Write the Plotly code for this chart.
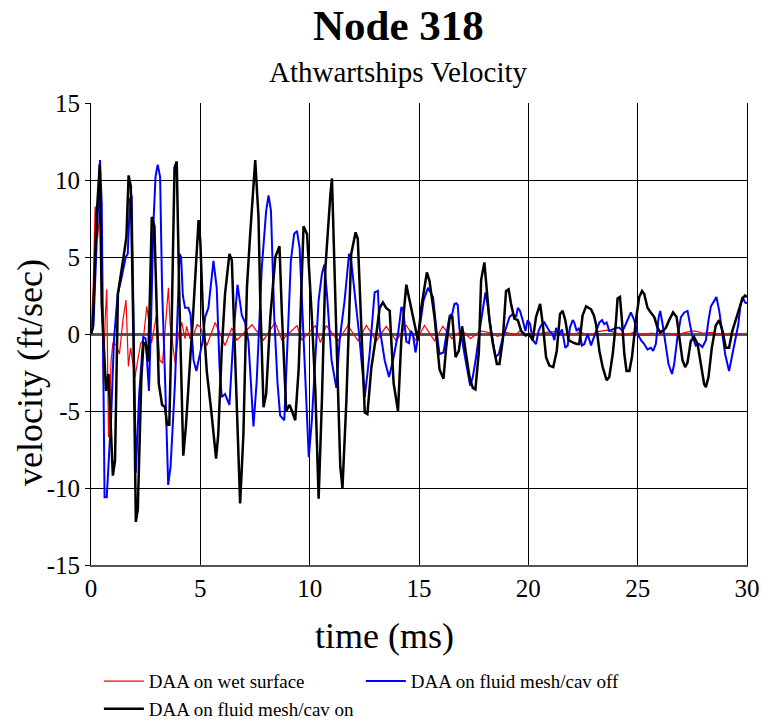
import plotly.graph_objects as go

# ---- data ----
t_wet = [0, 0.1, 0.19, 0.3, 0.41, 0.5, 0.57, 0.65, 0.72, 0.8, 0.92, 1.0, 1.15, 1.3, 1.46, 1.6, 1.71, 1.81,
         2.01, 2.27, 2.39, 2.55, 2.77, 3.0, 3.15, 3.27, 3.54, 3.62, 3.85, 4.0, 4.15, 4.3, 4.37, 4.52, 4.7,
         4.86, 5.0, 5.3, 5.68, 6.13, 6.44, 6.67, 7.0, 7.36, 7.89, 8.42, 8.73, 9.1, 9.42, 9.65, 10.26, 10.49,
         10.76, 11.3, 11.75, 12.21, 12.59, 13.05, 13.5, 13.96, 14.42, 14.87, 15.25, 15.71, 16.09, 16.5,
         16.95, 17.35, 17.8, 18.2, 18.6, 19.0, 19.4, 19.6, 20.0, 20.4, 20.8, 21.2, 21.6, 22.0, 22.4, 22.8,
         23.2, 23.6, 24.0, 24.4, 24.8, 25.2, 25.6, 26.0, 26.4, 26.8, 27.2, 27.6, 28.0, 28.4, 28.8, 29.2,
         29.6, 30.0]
v_wet = [0, 3, 8.3, 6.2, 8, 2, -3.2, 1, 2.9, -6.7, -1.7, -0.6, -0.7, -1.3, 0.9, 2.2, -2.1, -0.9,
         -2.8, -0.6, -0.4, 1.8, -0.6, 1.3, -1.7, -1.9, 3, 0.6, -1.9, 0, 0.75, -0.3, 0.5, -0.3, 0,
         0.6, 0.45, -0.75, 0.75, -0.75, 0.4, -0.4, 0.1, 0.6, -0.4, 0.75, -0.4, 0.1, 0.55, -0.4, 0.55, -0.55,
         0.55, -0.45, 0.55, -0.45, 0.55, -0.45, 0.5, -0.45, 0.55, -0.45, 0.55, -0.45, 0.5, -0.3,
         0.25, -0.3, 0.2, 0.1, -0.15, 0.1, -0.1, 0.2, -0.05, 0, 0.1, 0.15, -0.1, 0, 0.1, -0.1,
         0.15, 0.25, 0.1, -0.1, 0.1, -0.1, 0.05, 0, 0.05, -0.05, 0.1, 0.2, 0.05, 0.1, -0.05, 0.05,
         0, 0.05]

t_off = [0, 0.11, 0.26, 0.41, 0.49, 0.55, 0.62, 0.72, 0.92, 1.05, 1.22, 1.36, 1.59, 1.68, 1.78, 1.86, 1.94,
         2.05, 2.2, 2.39, 2.5, 2.65, 2.75, 2.85, 2.95, 3.05, 3.16, 3.25, 3.38, 3.53, 3.64, 3.84, 3.95, 4.05,
         4.12, 4.2, 4.3, 4.45, 4.55, 4.69, 4.82, 4.95, 5.1, 5.22, 5.37, 5.6, 5.75, 5.88, 5.98, 6.13, 6.33,
         6.52, 6.7, 6.9, 7.05, 7.2, 7.43, 7.58, 7.81, 8.01, 8.12, 8.23, 8.38, 8.53, 8.65, 8.84, 8.99, 9.14,
         9.29, 9.42, 9.54, 9.72, 9.85, 9.96, 10.1, 10.26, 10.41, 10.56, 10.67, 10.79, 11.0, 11.22, 11.37,
         11.6, 11.8, 11.9, 12.1, 12.26, 12.52, 12.74, 12.97, 13.12, 13.2, 13.43, 13.63, 13.81, 14.04, 14.19,
         14.27, 14.42, 14.54, 14.62, 14.72, 14.84, 15.03, 15.21, 15.41, 15.64, 15.82, 15.94, 16.12, 16.24,
         16.4, 16.52, 16.62, 16.7, 16.77, 16.85, 16.97, 17.08, 17.23, 17.34, 17.46, 17.61, 17.77, 17.92,
         18.04, 18.15, 18.3, 18.5, 18.65, 18.8, 18.95, 19.14, 19.29, 19.44, 19.52, 19.62, 19.74, 19.87,
         19.97, 20.08, 20.2, 20.35, 20.47, 20.58, 20.73, 20.96, 21.11, 21.19, 21.27, 21.39, 21.54, 21.69,
         21.8, 21.9, 22.03, 22.1, 22.21, 22.33, 22.45, 22.56, 22.71, 22.87, 22.95, 23.09, 23.25, 23.37,
         23.47, 23.58, 23.7, 23.86, 24.0, 24.16, 24.31, 24.46, 24.62, 24.69, 24.84, 25.0, 25.15, 25.3,
         25.45, 25.6, 25.71, 25.83, 25.96, 26.03, 26.14, 26.26, 26.41, 26.57, 26.67, 26.82, 26.98, 27.13,
         27.28, 27.39, 27.51, 27.66, 27.81, 27.96, 28.12, 28.24, 28.35, 28.5, 28.6, 28.73, 28.85, 29.0,
         29.18, 29.3, 29.49, 29.6, 29.71, 29.79, 29.91, 30.0]
v_off = [0, 0.5, 6, 11.3, 8.5, -3.2, -10.6, -10.6, -5.4, -0.4, 2.6, 3.4, 5, 5.2, 8.7, 9, 0,
         -9, -4, -0.2, -0.3, -3.7, 1, 7, 10.2, 11, 10.2, 3, -2.6, -9.8, -8.6, -3.2, 1, 5.2,
         5, 2.5, 1.7, 1.7, 1.3, -1.7, -2.4, -1.5, -0.5, 1.1, 1.7, 4.75, 3, -2.2, -4.1, -3.9, -4.6,
         0, 3.2, 1.2, 0.75, -0.5, -6, -3, 4.3, 8, 9, 8, 1.1, -3.2, -5.3, -5.6, -0.4, 4.75,
         6.5, 6.7, 5.6, -0.4, -3.7, -8, -5.6, -1.7, 2.2, 3.9, 4.5, 2.6, -1.7, -3.5, -0.4,
         2.2, 5.2, 4.75, 2.2, 0, -4.1, -1.3, 2.7, 2.8, 0.4, -1.7, -2.8, -1.7, 0, 1.7,
         1.7, -0.5, -0.6, 0.2, 0, -1.2, 0.4, 2.2, 3, 2.4, 0, -1.3, -1.2, -0.2,
         1.2, 1.3, 1.95, 2, 1.9, 0.3, -0.4, -1.3, -2.6, -3.35, -2.8, -1.5, 0.2, 1.5,
         2.7, 1.8, 0.2, -1.5, -1.3, -0.4, 0.2, 1.1, 1.3, 1.1, 1.7, 1.5, 0.9, 0.2,
         0.9, 0.65, -0.4, -0.65, 0.2, 0.55, 0.75, 0.2, 0, -0.4, 0.4, -0.1, 0.3, -0.9,
         -0.75, 0.4, 0.9, 0.75, 0.2, 0.4, -0.75, -0.65, 0, -0.75, -0.4, 0.2, 0.75, 0.9,
         0.65, 0.75, 0.2, 0.3, 0.4, 0.4, 0.2, 0.65, 1.2, 1.4, 0.9, 0, -0.4, -0.65,
         -1, -0.9, -1.1, -0.65, 1.1, 1.5, 0.65, -0.65, -1.95, -2.6, -1.95, -0.2, 1.1, 1.4,
         1.5, 0.65, -0.2, -0.75, -0.65, -0.85, -0.4, 0.9, 1.8, 2.15, 2.4, 1.5, 0.2, -1.3,
         -2.4, -1.5, 0, 0.6, 1.95, 2.4, 2.05, 2]

t_on = [0, 0.08, 0.25, 0.4, 0.49, 0.69, 0.8, 1.0, 1.1, 1.23, 1.54, 1.62, 1.72, 1.82, 1.94, 2.05, 2.14,
        2.3, 2.4, 2.5, 2.62, 2.78, 2.9, 3.1, 3.25, 3.38, 3.48, 3.58, 3.68, 3.82, 3.92, 4.03, 4.22, 4.34,
        4.52, 4.65, 4.92, 5.0, 5.12, 5.3, 5.5, 5.72, 5.82, 5.98, 6.13, 6.33, 6.44, 6.6, 6.82, 6.97, 7.13,
        7.28, 7.51, 7.66, 7.74, 7.89, 8.01, 8.2, 8.43, 8.62, 8.73, 8.93, 9.08, 9.19, 9.34, 9.5, 9.72,
        9.88, 10.1, 10.26, 10.41, 10.56, 10.72, 10.95, 11.02, 11.22, 11.4, 11.5, 11.68, 11.9, 12.1, 12.2,
        12.36, 12.52, 12.64, 12.82, 13.05, 13.2, 13.35, 13.5, 13.66, 13.84, 14.04, 14.19, 14.42, 14.6,
        14.8, 14.95, 15.1, 15.36, 15.48, 15.71, 15.94, 16.12, 16.24, 16.4, 16.52, 16.67, 16.82, 16.97,
        17.13, 17.31, 17.46, 17.58, 17.74, 17.84, 17.99, 18.1, 18.22, 18.38, 18.56, 18.68, 18.83, 18.98,
        19.1, 19.21, 19.36, 19.52, 19.67, 19.87, 20.02, 20.2, 20.35, 20.54, 20.66, 20.81, 20.96, 21.14,
        21.3, 21.45, 21.57, 21.69, 21.84, 22.03, 22.21, 22.33, 22.48, 22.64, 22.87, 23.0, 23.1, 23.25,
        23.4, 23.58, 23.7, 23.86, 24.0, 24.08, 24.19, 24.28, 24.39, 24.49, 24.62, 24.74, 24.92, 25.07,
        25.2, 25.3, 25.45, 25.6, 25.76, 25.91, 26.03, 26.14, 26.29, 26.44, 26.62, 26.78, 26.9, 27.05,
        27.17, 27.28, 27.43, 27.58, 27.74, 27.89, 28.04, 28.12, 28.24, 28.39, 28.57, 28.73, 28.88, 29.03,
        29.18, 29.33, 29.49, 29.64, 29.79, 29.91, 30.0]
v_on = [0, 0.4, 7.5, 11, 2, -3.7, -2.6, -9.2, -8.2, 2.6, 5.5, 6.3, 10.3, 9.6, 0, -12.2, -11.4,
        -3, -0.6, -0.6, -1.8, 7.6, 7, -3.2, -4.6, -4.75, -5.9, -5.9, 0, 10.8, 11.2, 3, -7.9, -6,
        -2, 0.8, 7.4, 6, 1.3, -2.5, -5, -8.1, -6.5, -1, 2.6, 5.2, 4.8, -2.2, -11, -6.5, 3,
        6.5, 11.3, 7.6, 2.2, -4.75, -3.9, 1.1, 5, 5.7, 1.3, -5, -4.6, -5, -5.6, -2.2, 7,
        6.5, 1.1, -3.7, -10.7, -4.3, 4.3, 9.1, 10.1, 0, -8.6, -10, -4.3, 5.2, 6.6, 6.2,
        0, -5.1, -5.2, -2.2, 0, 1.7, 2.05, 1.7, 1.5, -3.2, -5, -0.4, 3.2, 1.9,
        0.65, -0.4, 1.7, 4, 3.45, 1.1, -2.3, -2.9, -0.9, 1, 1.2, -1.5, -1.1, 0.5,
        -1.1, -2.8, -3.5, -3.6, -1.1, 3.5, 4.65, 2.8, 0.9, -0.65, -1.95, -1.95, -0.4, 2.8,
        2.9, 1.95, 1, 0.9, 0.2, -0.1, 0, -0.4, 1.1, 1.95, 0.65, -1.5, -2.05, -2.15,
        -1.1, 1.3, 1.5, 0.9, -0.4, -0.55, -0.65, -0.65, 1.2, 1.8, 1.6, 1.2, 0.6, -1.1,
        -2.15, -3, -2.8, -1.3, 0.65, 2.3, 2.4, 0.9, -1.3, -2.4, -2.4, -1.5, 0.9, 2.4,
        2.8, 2.6, 1.7, 1.4, 1.1, 0.4, 0.1, 0.2, 0.4, 0.9, 1.4, 1.1, -0.2, -1.7,
        -2.15, -1.85, -0.45, -0.2, -0.65, -1.95, -3.25, -3.45, -2.8, -0.9, 0.55, 0.9, 0.2, -0.9,
        -0.9, 0.2, 0.9, 1.5, 2.3, 2.5, 2.4]

y_ticks = [-15, -10, -5, 0, 5, 10, 15]
y_tick_text = ["-15", "-10", "-5", "0", "5", "10", "15"]
x_ticks = [0, 5, 10, 15, 20, 25, 30]

names = ["DAA on wet surface", "DAA on fluid mesh/cav off", "DAA on fluid mesh/cav on"]

FONT = "Liberation Serif, Times New Roman, serif"

fig = go.Figure()
fig.add_trace(go.Scatter(x=t_wet, y=v_wet, mode="lines", name=names[0],
                         line=dict(color="#ff0000", width=1.2)))
fig.add_trace(go.Scatter(x=t_off, y=v_off, mode="lines", name=names[1],
                         line=dict(color="#0000ff", width=2)))
fig.add_trace(go.Scatter(x=t_on, y=v_on, mode="lines", name=names[2],
                         line=dict(color="#000000", width=2.5)))

fig.update_layout(
    width=763, height=719,
    margin=dict(l=91, r=16, t=103, b=154, pad=0, autoexpand=False),
    paper_bgcolor="white", plot_bgcolor="white",
    font=dict(family=FONT, color="black"),
    showlegend=True,
    legend=dict(orientation="h", x=0.012, xanchor="left", y=0.079, yref="container",
                yanchor="top",
                font=dict(family=FONT, size=19, color="black"),
                entrywidth=207, itemwidth=40, tracegroupgap=0,
                bgcolor="rgba(0,0,0,0)"),
    annotations=[
        dict(text="<b>Node 318</b>", x=0.4695, y=1.167, xref="paper", yref="paper",
             xanchor="center", yanchor="middle", showarrow=False,
             font=dict(family=FONT, size=43, color="black")),
        dict(text="Athwartships Velocity", x=0.4695, y=1.068, xref="paper", yref="paper",
             xanchor="center", yanchor="middle", showarrow=False,
             font=dict(family=FONT, size=29, color="black")),
        dict(text="velocity (ft/sec)", x=-0.093, y=0.418, xref="paper", yref="paper",
             xanchor="center", yanchor="middle", showarrow=False, textangle=-90,
             font=dict(family=FONT, size=36, color="black")),
        dict(text="time (ms)", x=0.447, y=-0.154, xref="paper", yref="paper",
             xanchor="center", yanchor="middle", showarrow=False,
             font=dict(family=FONT, size=36, color="black")),
    ],
)

fig.update_xaxes(range=[0, 30], tickvals=x_ticks, ticks="inside", ticklen=5, tickcolor="black",
                 showgrid=True, gridcolor="black", gridwidth=1, automargin=False,
                 showline=True, linecolor="#555555", linewidth=2, mirror=False,
                 zeroline=False, tickfont=dict(family=FONT, size=25, color="black"))
fig.update_yaxes(range=[-15, 15], tickvals=y_ticks, ticktext=y_tick_text, ticks="outside",
                 ticklen=5, tickcolor="black", automargin=False,
                 showgrid=True, gridcolor="black", gridwidth=1,
                 showline=True, linecolor="black", linewidth=1, mirror=True,
                 zeroline=True, zerolinecolor="#555555", zerolinewidth=2.5,
                 tickfont=dict(family=FONT, size=25, color="black"))

# place the figure at the page's top-left corner (no default body margin / scrollbars)
page_css = ("document.documentElement.style.margin='0';document.documentElement.style.overflow='hidden';"
            "document.body.style.margin='0';document.body.style.overflow='hidden';")
fig.write_html("out.html", post_script=page_css, config={"displayModeBar": False})
